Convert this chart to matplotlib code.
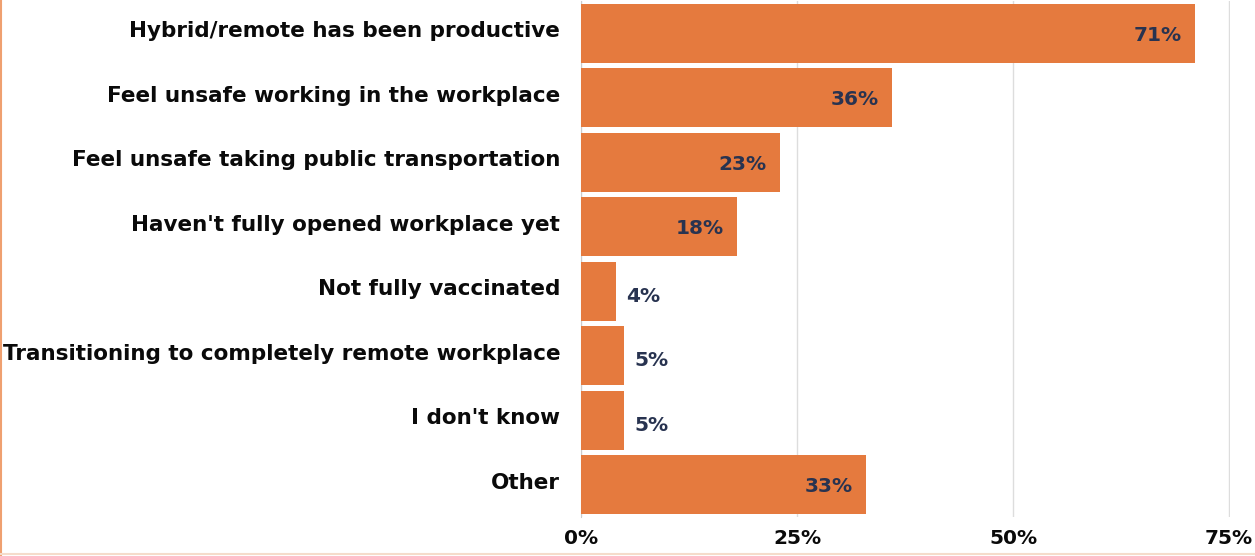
import matplotlib
matplotlib.use("Agg")
import matplotlib.pyplot as plt
from matplotlib.lines import Line2D
from matplotlib.transforms import ScaledTranslation

categories = [
    "Hybrid/remote has been productive",
    "Feel unsafe working in the workplace",
    "Feel unsafe taking public transportation",
    "Haven't fully opened workplace yet",
    "Not fully vaccinated",
    "Transitioning to completely remote workplace",
    "I don't know",
    "Other",
]
values = [71, 36, 23, 18, 4, 5, 5, 33]
xticks = [0, 25, 50, 75]
xticklabels = ["0%", "25%", "50%", "75%"]

bar_color = "#E57A3E"
label_color = "#283350"

fig = plt.figure(figsize=(12.55, 5.56), dpi=100)
ax = fig.add_axes([581/1255, 1 - 517/556, (1230-581)/1255, (517-1)/556])

y = list(range(len(categories)))
ax.barh(y, values, height=0.91, color=bar_color, zorder=3)
ax.set_ylim(len(categories) - 0.5, -0.5)
ax.set_xlim(0, 75.1)

ax.set_yticks(y)
ax.set_yticklabels(categories, fontsize=15.5, fontweight="bold", color="#0a0a0a")
ax.set_xticks(xticks)
ax.set_xticklabels(xticklabels, fontsize=14.5, fontweight="bold", color="#0a0a0a")
ax.tick_params(axis="both", length=0)
ax.tick_params(axis="y", pad=15)
ax.tick_params(axis="x", pad=9)
shift = ScaledTranslation(0, 3/72, fig.dpi_scale_trans)
for lbl in ax.get_yticklabels():
    lbl.set_transform(lbl.get_transform() + shift)

ax.grid(axis="x", color="#dddddd", linewidth=1, zorder=0)
for s in ["top", "right", "bottom"]:
    ax.spines[s].set_visible(False)
ax.spines["left"].set_color("#cccccc")

for yi, v in zip(y, values):
    if v >= 10:
        ax.text(v - 1.5, yi + 0.03, f"{v}%", ha="right", va="center",
                fontsize=14.5, fontweight="bold", color=label_color, zorder=4)
    else:
        ax.text(v + 1.2, yi + 0.08, f"{v}%", ha="left", va="center",
                fontsize=14.5, fontweight="bold", color=label_color, zorder=4)

fig.add_artist(Line2D([0.0008, 0.0008], [0, 1], color="#EFA070", linewidth=1.5, transform=fig.transFigure))
fig.add_artist(Line2D([0, 1], [0.003, 0.003], color="#F5DCCB", linewidth=1.5, transform=fig.transFigure))

fig.savefig("out.png", dpi=100)
